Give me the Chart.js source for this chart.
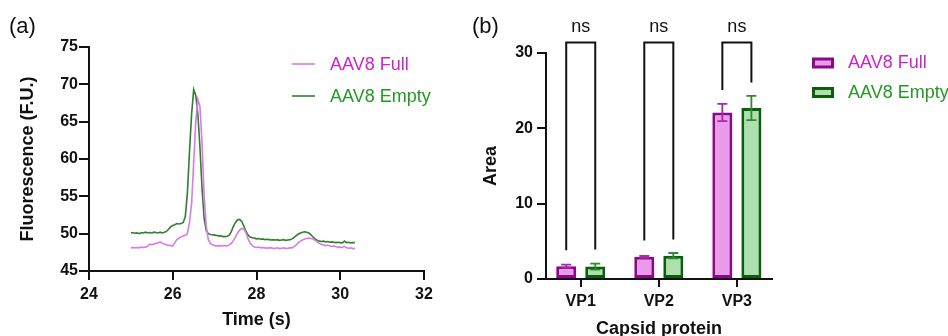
<!DOCTYPE html>
<html><head><meta charset="utf-8">
<script src="https://cdn.jsdelivr.net/npm/chart.js@4.4.1/dist/chart.umd.min.js"></script>
<style>
html,body{margin:0;padding:0;background:#fff;}
body{width:948px;height:336px;position:relative;overflow:hidden;font-family:'Liberation Sans',Arial,sans-serif;}
.panel{position:absolute;top:0;height:336px;}
#pa{left:0;width:470px;}
#pb{left:470px;width:478px;}
.tag{position:absolute;top:13px;font-size:22px;color:#111;line-height:26px;}
</style></head><body>
<div class="panel" id="pa"><canvas id="ca" width="470" height="336"></canvas></div>
<div class="panel" id="pb"><canvas id="cb" width="478" height="336"></canvas></div>
<div class="tag" style="left:9px">(a)</div>
<div class="tag" style="left:472px">(b)</div>
<script>
// ---------- Panel (a) data ----------
const seriesNames = ['AAV8 Full', 'AAV8 Empty'];
const timeS = [
 25.00,25.05,25.10,25.15,25.20,25.25,25.30,25.35,25.40,25.45,
 25.50,25.55,25.60,25.65,25.70,25.75,25.80,25.85,25.90,25.95,
 26.00,26.05,26.10,26.15,26.20,26.25,26.30,26.35,26.40,26.45,
 26.50,26.55,26.60,26.65,26.70,26.75,26.80,26.85,26.90,26.95,
 27.00,27.05,27.10,27.15,27.20,27.25,27.30,27.35,27.40,27.45,
 27.50,27.55,27.60,27.65,27.70,27.75,27.80,27.85,27.90,27.95,
 28.00,28.05,28.10,28.15,28.20,28.25,28.30,28.35,28.40,28.45,
 28.50,28.55,28.60,28.65,28.70,28.75,28.80,28.85,28.90,28.95,
 29.00,29.05,29.10,29.15,29.20,29.25,29.30,29.35,29.40,29.45,
 29.50,29.55,29.60,29.65,29.70,29.75,29.80,29.85,29.90,29.95,
 30.00,30.05,30.10,30.15,30.20,30.25,30.30,30.35
];
const fullFluor = [
 48.10,48.15,48.10,48.15,48.10,48.20,48.15,48.20,48.30,48.60,
 48.50,48.60,48.70,48.75,48.90,48.70,48.60,48.50,48.45,48.40,
 48.35,48.80,49.20,49.40,49.60,49.70,49.80,50.00,51.50,54.00,
 59.50,65.00,68.00,67.00,62.00,55.00,51.00,49.20,48.70,48.50,
 48.40,48.35,48.40,48.35,48.40,48.40,48.35,48.50,48.70,49.10,
 49.60,50.10,50.50,50.70,50.60,50.10,49.30,48.70,48.40,48.20,
 48.15,48.20,48.10,48.15,48.10,48.05,48.10,48.10,48.00,48.05,
 48.10,48.00,48.05,48.10,48.00,48.05,48.10,48.10,48.30,48.50,
 48.80,49.00,49.15,49.30,49.35,49.40,49.35,49.30,49.10,48.90,
 48.70,48.55,48.50,48.40,48.45,48.35,48.30,48.35,48.25,48.20,
 48.20,48.15,48.30,48.10,48.05,48.10,48.00,48.00
];
const emptyFluor = [
 50.10,50.15,50.05,50.10,50.00,50.15,50.10,50.20,50.10,50.15,
 50.10,50.20,50.15,50.10,50.20,50.10,50.20,50.30,50.60,50.90,
 51.10,51.20,51.35,51.30,51.35,51.50,52.30,55.50,61.00,66.00,
 69.30,68.50,66.00,61.50,56.00,52.00,50.40,50.00,49.90,49.85,
 49.80,49.75,49.70,49.70,49.60,49.60,49.65,49.80,50.30,51.00,
 51.50,51.85,51.90,51.60,51.00,50.30,49.80,49.55,49.45,49.40,
 49.30,49.35,49.25,49.30,49.20,49.25,49.20,49.15,49.20,49.15,
 49.20,49.10,49.15,49.20,49.10,49.15,49.20,49.30,49.50,49.75,
 49.95,50.10,50.20,50.25,50.20,50.10,49.85,49.55,49.30,49.10,
 49.00,48.95,49.00,48.90,48.95,48.85,48.90,48.85,48.80,48.85,
 48.80,48.75,49.00,48.80,48.85,48.75,48.80,48.80
];
const timeRange = [24, 32];
const fluorRange = [45, 75];

// ---------- Panel (b) data ----------
const proteins = ['VP1', 'VP2', 'VP3'];
const fullArea = [1.70, 2.95, 22.10];
const fullSD = [0.20, 0.12, 1.15];
const emptyArea = [1.65, 3.10, 22.70];
const emptySD = [0.40, 0.35, 1.60];
const sigLabels = ['ns', 'ns', 'ns'];
const bracketTop = [31.4, 31.4, 31.4];
const bracketLeftEnd = [3.8, 5.1, 25.1];
const bracketRightEnd = [3.9, 5.25, 26.1];
const areaRange = [0, 30];

Chart.defaults.font.family = "'Liberation Sans', Arial, sans-serif";
Chart.defaults.color = '#111';

const INK = '#111';
const lineColors = ['#D77BE8', '#2F7F2F'];
const textColors = ['#CC22CC', '#229922'];
const barFill = ['#E99AE9', '#AEDFAE'];
const barEdge = ['#880A88', '#0B5E0B'];
const errColors = ['#A828A8', '#2E8B2E'];

function axisStyle(tickLen){
  return {
    grid: {display: true, offset: false, drawOnChartArea: false, drawTicks: true, tickLength: tickLen, color: INK, lineWidth: 2},
    border: {display: true, color: INK, width: 2}
  };
}

// ---- Panel (a) ----
const legendA = {
  id: 'legendA',
  afterDraw(chart){
    const ctx = chart.ctx; ctx.save();
    chart.data.datasets.forEach((ds, i) => {
      const y = 64 + i * 32;
      ctx.strokeStyle = ds.borderColor; ctx.lineWidth = 1.6;
      ctx.beginPath(); ctx.moveTo(292, y); ctx.lineTo(315, y); ctx.stroke();
      ctx.fillStyle = textColors[i];
      ctx.font = "18px 'Liberation Sans', Arial, sans-serif";
      ctx.textBaseline = 'middle'; ctx.textAlign = 'left';
      ctx.fillText(ds.label, 330, y + 1);
    });
    ctx.restore();
  }
};

new Chart(document.getElementById('ca'), {
  type: 'line',
  data: {
    datasets: [
      {label: seriesNames[0], data: timeS.map((t, i) => ({x: t, y: fullFluor[i]})), borderColor: lineColors[0], borderWidth: 1.6, pointRadius: 0, tension: 0, fill: false},
      {label: seriesNames[1], data: timeS.map((t, i) => ({x: t, y: emptyFluor[i]})), borderColor: lineColors[1], borderWidth: 1.6, pointRadius: 0, tension: 0, fill: false}
    ]
  },
  options: {
    responsive: false, animation: false,
    layout: {padding: {top: 47, right: 46, left: 0, bottom: 0}},
    plugins: {legend: {display: false}, tooltip: {enabled: false}},
    scales: {
      x: Object.assign({
        type: 'linear', min: timeRange[0], max: timeRange[1],
        ticks: {stepSize: 2, padding: 5, font: {size: 16, weight: 'bold'}, color: INK, maxRotation: 0},
        title: {display: true, text: 'Time (s)', font: {size: 18, weight: 'bold'}, color: INK, padding: {top: 0, bottom: 5}},
        afterFit: s => { s.height = 65; }
      }, axisStyle(9)),
      y: Object.assign({
        type: 'linear', min: fluorRange[0], max: fluorRange[1],
        ticks: {stepSize: 5, padding: 1, font: {size: 16, weight: 'bold'}, color: INK},
        title: {display: true, text: 'Fluorescence (F.U.)', font: {size: 18, weight: 'bold'}, color: INK, padding: {top: 17, bottom: 0}},
        afterFit: s => { s.width = 89; }
      }, axisStyle(10))
    }
  },
  plugins: [legendA]
});

// ---- Panel (b) ----
const sdSets = [fullSD, emptySD];
const errorBars = {
  id: 'errorBars',
  afterDatasetsDraw(chart){
    const ctx = chart.ctx, ys = chart.scales.y; ctx.save();
    chart.data.datasets.forEach((ds, di) => {
      const meta = chart.getDatasetMeta(di);
      meta.data.forEach((bar, i) => {
        const v = ds.data[i].y, sd = sdSets[di][i];
        const yt = ys.getPixelForValue(v + sd), yb = ys.getPixelForValue(v - sd);
        ctx.strokeStyle = errColors[di]; ctx.lineWidth = 1.8;
        ctx.beginPath();
        ctx.moveTo(bar.x, yt); ctx.lineTo(bar.x, yb);
        ctx.moveTo(bar.x - 5, yt); ctx.lineTo(bar.x + 5, yt);
        ctx.moveTo(bar.x - 5, yb); ctx.lineTo(bar.x + 5, yb);
        ctx.stroke();
      });
    });
    ctx.restore();
  },
  afterDraw(chart){
    const ctx = chart.ctx, ys = chart.scales.y; ctx.save();
    const m0 = chart.getDatasetMeta(0), m1 = chart.getDatasetMeta(1);
    proteins.forEach((p, i) => {
      const lx = m0.data[i].x, rx = m1.data[i].x;
      const top = ys.getPixelForValue(bracketTop[i]);
      ctx.strokeStyle = INK; ctx.lineWidth = 2; ctx.lineJoin = 'miter';
      ctx.beginPath();
      ctx.moveTo(lx, ys.getPixelForValue(bracketLeftEnd[i]));
      ctx.lineTo(lx, top); ctx.lineTo(rx, top);
      ctx.lineTo(rx, ys.getPixelForValue(bracketRightEnd[i]));
      ctx.stroke();
      ctx.fillStyle = INK; ctx.font = "18px 'Liberation Sans', Arial, sans-serif";
      ctx.textAlign = 'center'; ctx.textBaseline = 'middle';
      ctx.fillText(sigLabels[i], (lx + rx) / 2, top - 15);
    });
    // legend
    chart.data.datasets.forEach((ds, i) => {
      const y0 = 57.5 + i * 29.5;
      ctx.fillStyle = barEdge[i]; ctx.fillRect(342, y0, 22, 11);
      ctx.fillStyle = barFill[i]; ctx.fillRect(345, y0 + 3, 16, 5);
      ctx.fillStyle = textColors[i]; ctx.font = "18px 'Liberation Sans', Arial, sans-serif";
      ctx.textAlign = 'left'; ctx.textBaseline = 'middle';
      ctx.fillText(ds.label, 378, y0 + 6);
    });
    ctx.restore();
  }
};

new Chart(document.getElementById('cb'), {
  type: 'bar',
  data: {
    datasets: [
      {label: seriesNames[0], data: fullArea.map((v, i) => ({x: i, y: v})), backgroundColor: barFill[0], borderColor: barEdge[0], borderWidth: 3, borderSkipped: false},
      {label: seriesNames[1], data: emptyArea.map((v, i) => ({x: i, y: v})), backgroundColor: barFill[1], borderColor: barEdge[1], borderWidth: 3, borderSkipped: false}
    ]
  },
  options: {
    responsive: false, animation: false,
    categoryPercentage: 0.744, barPercentage: 0.69,
    layout: {padding: {top: 53, right: 176, left: 0, bottom: 0}},
    plugins: {legend: {display: false}, tooltip: {enabled: false}},
    scales: {
      x: Object.assign({
        type: 'linear', min: -0.445, max: 2.45, offset: false,
        afterBuildTicks: s => { s.ticks = proteins.map((p, i) => ({value: i})); },
        ticks: {padding: 5, autoSkip: false, maxRotation: 0, font: {size: 16, weight: 'bold'}, color: INK, callback: v => proteins[v]},
        title: {display: true, text: 'Capsid protein', font: {size: 18, weight: 'bold', lineHeight: 1.0}, color: INK, padding: {top: 0, bottom: -2}},
        afterFit: s => { s.height = 57; }
      }, axisStyle(8)),
      y: Object.assign({
        type: 'linear', min: areaRange[0], max: areaRange[1],
        ticks: {stepSize: 10, padding: 4, font: {size: 16, weight: 'bold'}, color: INK},
        title: {display: true, text: 'Area', font: {size: 18, weight: 'bold'}, color: INK, padding: {top: 10, bottom: 0}},
        afterFit: s => { s.width = 76; }
      }, axisStyle(9))
    }
  },
  plugins: [errorBars]
});
</script>
</body></html>
